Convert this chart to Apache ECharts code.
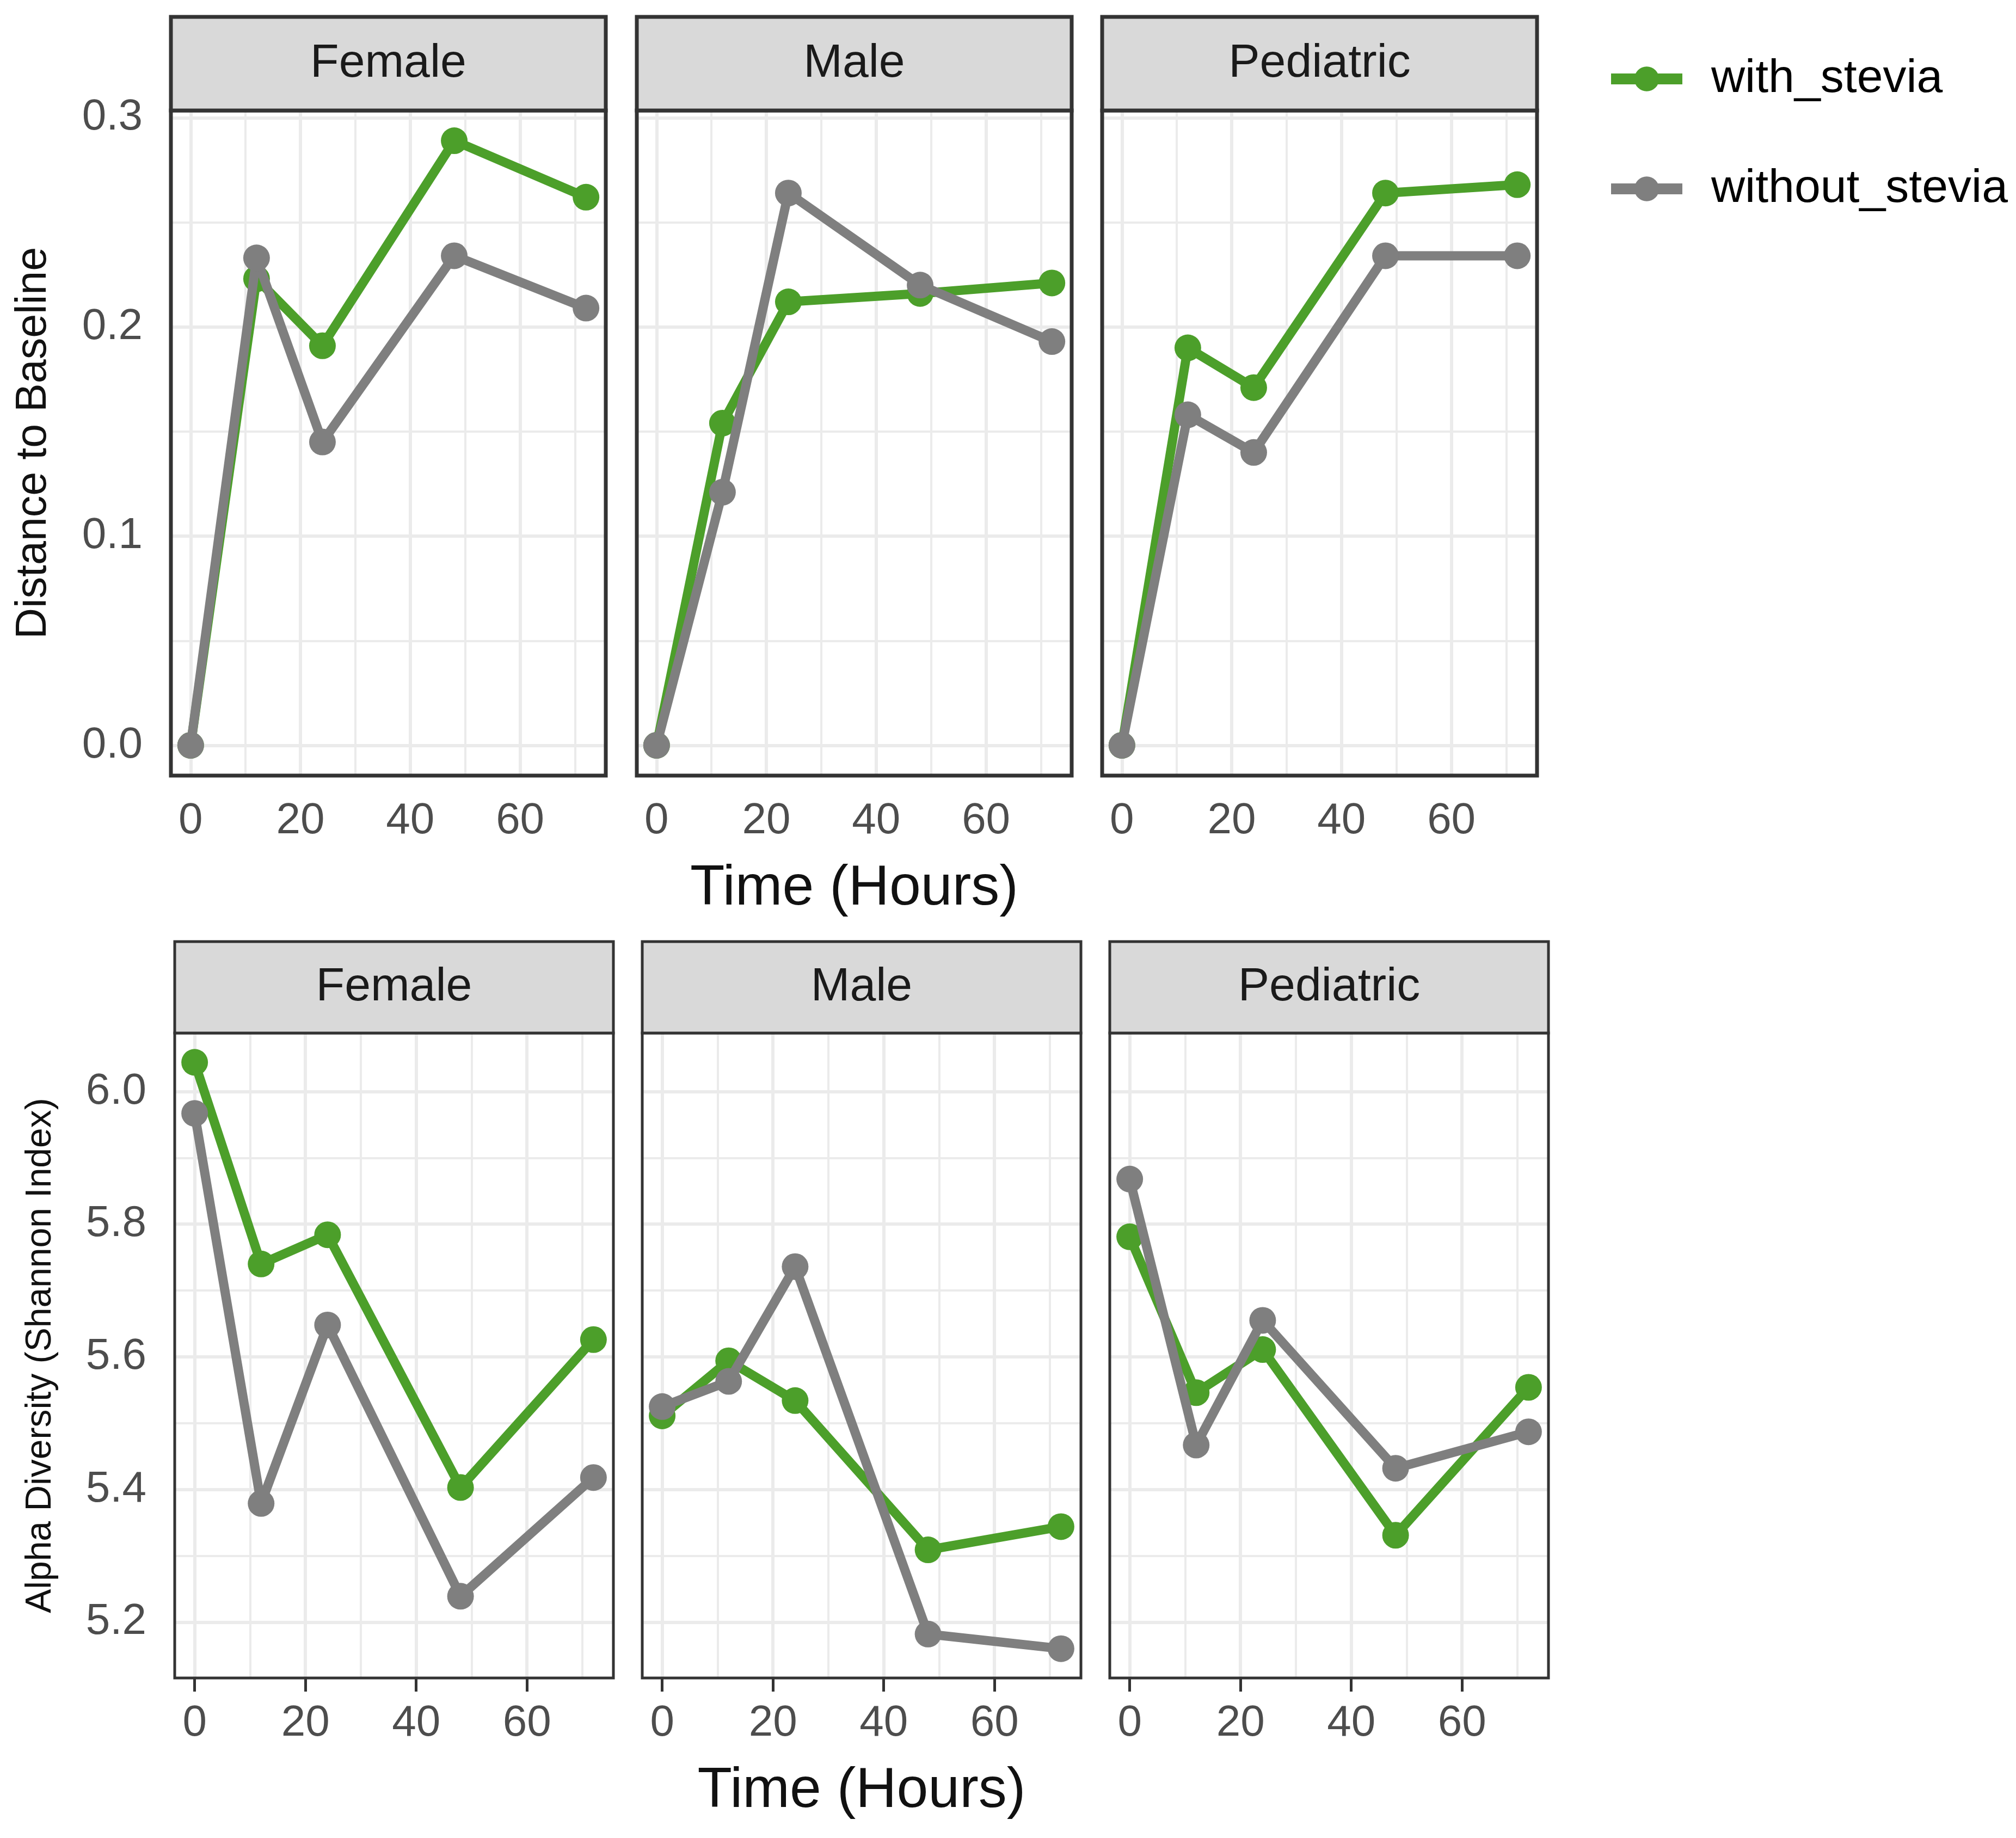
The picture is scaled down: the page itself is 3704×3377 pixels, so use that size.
<!DOCTYPE html>
<html>
<head>
<meta charset="utf-8">
<script src="https://cdn.jsdelivr.net/npm/echarts@6/dist/echarts.min.js"></script>
<style>
html,body{margin:0;padding:0;background:#ffffff;}
#chart{width:3704px;height:3377px;}
</style>
</head>
<body>
<div id="chart"></div>
<script>
// ---------------- data ----------------
const hours = [0, 12, 24, 48, 72];
const facets = ['Female', 'Male', 'Pediatric'];
const groups = ['with_stevia', 'without_stevia'];

// Distance to Baseline
const distFemaleWith    = [0, 0.223, 0.191, 0.289, 0.262];
const distFemaleWithout = [0, 0.233, 0.145, 0.234, 0.209];
const distMaleWith      = [0, 0.154, 0.212, 0.216, 0.221];
const distMaleWithout   = [0, 0.121, 0.264, 0.220, 0.193];
const distPedWith       = [0, 0.190, 0.171, 0.264, 0.268];
const distPedWithout    = [0, 0.158, 0.140, 0.234, 0.234];

// Alpha Diversity (Shannon Index)
const alphaFemaleWith    = [6.044, 5.740, 5.784, 5.403, 5.626];
const alphaFemaleWithout = [5.967, 5.379, 5.648, 5.239, 5.418];
const alphaMaleWith      = [5.511, 5.594, 5.534, 5.309, 5.344];
const alphaMaleWithout   = [5.525, 5.563, 5.736, 5.182, 5.160];
const alphaPedWith       = [5.781, 5.546, 5.611, 5.331, 5.554];
const alphaPedWithout    = [5.868, 5.467, 5.655, 5.432, 5.487];

// ticks / grid lines
const xTicks = [0, 20, 40, 60];
const xGridVals = [0, 10, 20, 30, 40, 50, 60, 70];
const distTicks = [0, 0.1, 0.2, 0.3];
const distGridVals = [0, 0.05, 0.1, 0.15, 0.2, 0.25, 0.3];
const alphaTicks = [5.2, 5.4, 5.6, 5.8, 6.0];
const alphaGridVals = [5.2, 5.3, 5.4, 5.5, 5.6, 5.7, 5.8, 5.9, 6.0];

// ---------------- styling ----------------
const GREEN = '#4C9F2A';
const GREY = '#7F7F7F';
const SANS = "'Liberation Sans', Arial, Helvetica, sans-serif";

function expandRange(values) {
  const lo = Math.min(...values), hi = Math.max(...values);
  const pad = (hi - lo) * 0.05;
  return [lo - pad, hi + pad];
}
const xRange = expandRange(hours);

const rows = [
  {
    series: [[distFemaleWith, distFemaleWithout], [distMaleWith, distMaleWithout], [distPedWith, distPedWithout]],
    ticks: distTicks, gridVals: distGridVals,
    title: 'Distance to Baseline', titleSize: 79, titleGap: 212,
    top: 203, height: 1222, stripTop: 31,
    lefts: [314, 1170, 2025], width: 799, border: 7
  },
  {
    series: [[alphaFemaleWith, alphaFemaleWithout], [alphaMaleWith, alphaMaleWithout], [alphaPedWith, alphaPedWithout]],
    ticks: alphaTicks, gridVals: alphaGridVals,
    title: 'Alpha Diversity (Shannon Index)', titleSize: 66, titleGap: 213,
    top: 1898, height: 1185, stripTop: 1730,
    lefts: [321, 1180, 2039], width: 806, border: 5
  }
];

const grids = [], xAxes = [], yAxes = [], series = [], graphics = [];

rows.forEach((row, r) => {
  const allVals = [].concat(...row.series.map(p => p[0].concat(p[1])));
  const yRange = expandRange(allVals);
  row.lefts.forEach((left, c) => {
    const gi = grids.length;
    grids.push({
      left: left, top: row.top, width: row.width, height: row.height,
      show: true, borderColor: '#333333', borderWidth: row.border,
      backgroundColor: 'transparent', z: 10
    });
    xAxes.push({
      gridIndex: gi, type: 'value', min: xRange[0], max: xRange[1],
      axisLine: { show: false }, splitLine: { show: false },
      axisTick: { show: true, customValues: xTicks, length: 25, lineStyle: { color: '#333333', width: 5 } },
      axisLabel: { customValues: xTicks, margin: 44, fontSize: 80, color: '#4D4D4D', fontFamily: SANS },
      name: c === 1 ? 'Time (Hours)' : '',
      nameLocation: 'middle', nameGap: 156,
      nameTextStyle: { fontSize: 104, color: '#111111', fontFamily: SANS }
    });
    const first = c === 0;
    yAxes.push({
      gridIndex: gi, type: 'value', min: yRange[0], max: yRange[1],
      axisLine: { show: false }, splitLine: { show: false },
      axisTick: { show: first, customValues: row.ticks, length: 25, lineStyle: { color: '#333333', width: 5 } },
      axisLabel: { show: first, customValues: row.ticks, margin: 52, fontSize: 80, color: '#4D4D4D', fontFamily: SANS,
        formatter: v => Number(v).toFixed(1) },
      name: first ? row.title : '',
      nameLocation: 'middle', nameRotate: 90, nameGap: row.titleGap,
      nameTextStyle: { fontSize: row.titleSize, color: '#111111', fontFamily: SANS }
    });

    // grid lines (major + minor) through the axes scales
    const gl = [];
    xGridVals.forEach(v => gl.push({ xAxis: v, lineStyle: { width: xTicks.includes(v) ? 6 : 4 } }));
    row.gridVals.forEach(v => gl.push({ yAxis: v, lineStyle: { width: row.ticks.some(t => Math.abs(t - v) < 1e-9) ? 6 : 4 } }));
    series.push({
      type: 'line', xAxisIndex: gi, yAxisIndex: gi, silent: true, z: 1,
      data: hours.map((h, i) => [h, row.series[c][0][i]]),
      symbol: 'none', lineStyle: { opacity: 0 }, itemStyle: { opacity: 0 },
      markLine: {
        silent: true, z: 1, symbol: ['none', 'none'], animation: false,
        label: { show: false }, emphasis: { disabled: true },
        lineStyle: { color: '#EBEBEB', type: 'solid', width: 5 },
        data: gl
      }
    });

    groups.forEach((g, k) => {
      const vals = row.series[c][k];
      const col = k === 0 ? GREEN : GREY;
      series.push({
        name: g, type: 'line', xAxisIndex: gi, yAxisIndex: gi, z: 2 + k,
        data: hours.map((h, i) => [h, vals[i]]),
        symbol: 'circle', symbolSize: 49, showSymbol: true,
        lineStyle: { color: col, width: 17 },
        itemStyle: { color: col },
        emphasis: { disabled: true }
      });
    });

    // facet strip
    graphics.push({
      type: 'rect', z: 20,
      shape: { x: left, y: row.stripTop, width: row.width, height: row.top - row.stripTop },
      style: { fill: '#D9D9D9', stroke: '#333333', lineWidth: row.border }
    });
    graphics.push({
      type: 'text', z: 21,
      x: left + row.width / 2, y: (row.stripTop + row.top) / 2,
      style: { text: facets[c], fontSize: 86, fontFamily: SANS, fill: '#1A1A1A', align: 'center', verticalAlign: 'middle' }
    });
  });
});

const chart = echarts.init(document.getElementById('chart'), null, { renderer: 'canvas' });
chart.setOption({
  animation: false,
  backgroundColor: '#ffffff',
  grid: grids,
  xAxis: xAxes,
  yAxis: yAxes,
  series: series,
  graphic: { elements: graphics },
  legend: {
    data: groups, orient: 'vertical', left: 2945, top: 90,
    itemWidth: 131, itemHeight: 57, itemGap: 102,
    lineStyle: { width: 20 },
    textStyle: { fontSize: 86, lineHeight: 100, color: '#000000', fontFamily: SANS, padding: [0, 0, 0, 48] }
  }
});
</script>
</body>
</html>
